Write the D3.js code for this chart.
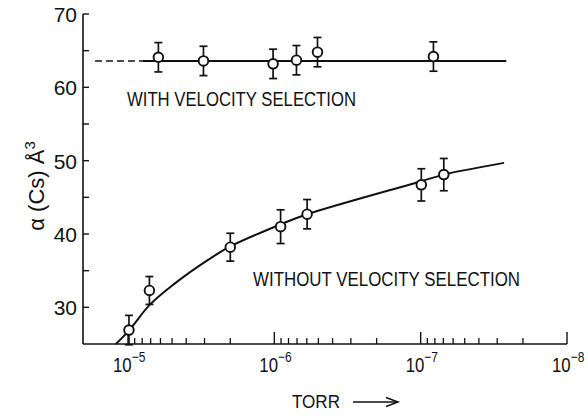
<!DOCTYPE html>
<html><head><meta charset="utf-8">
<script src="https://cdn.jsdelivr.net/npm/d3@7"></script>
<style>
html,body{margin:0;padding:0;background:#fff;}
svg{display:block;}
text{font-family:"Liberation Sans",Arial,sans-serif;fill:#111;}
</style></head>
<body><svg id="c" width="588" height="417"></svg>
<script>
// ---- data ----
const withSelPressure = [6.2e-6, 3.05e-6, 1.02e-6, 7.06e-7, 5.07e-7, 8.18e-8];
const withSelAlpha    = [64.1, 63.6, 63.2, 63.7, 64.8, 64.2];
const withSelErr      = [2.0, 2.0, 2.0, 2.0, 2.0, 2.0];
const withSelLevel    = 63.6;
const withSelDashRange  = [1.68e-5, 7.9e-6];
const withSelSolidRange = [7.9e-6, 2.6e-8];

const withoutSelPressure = [9.85e-6, 7.14e-6, 2.0e-6, 9.06e-7, 5.97e-7, 9.9e-8, 6.95e-8];
const withoutSelAlpha    = [26.9, 32.3, 38.2, 41.0, 42.7, 46.7, 48.1];
const withoutSelErr      = [2.0, 1.9, 1.9, 2.3, 2.0, 2.2, 2.2];

const fitPressure = [1.21e-5, 9.8e-6, 7.06e-6, 4.9e-6, 2.82e-6, 2.0e-6, 9.1e-7, 5.97e-7, 9.9e-8, 6.95e-8, 2.69e-8];
const fitAlpha    = [25.0, 26.9, 30.4, 33.1, 36.5, 38.3, 41.3, 42.7, 47.2, 48.1, 49.7];

const yTicks = [30, 35, 40, 45, 50, 55, 60, 65, 70];
const yLabels = [30, 40, 50, 60, 70];
const xMajor = [-5, -6, -7, -8];
const xMinorMult = [2, 3, 4, 5, 6, 7, 8, 9];

const svg = d3.select("#c");
const x = d3.scaleLog().domain([2.03e-5, 1e-8]).range([83, 567]);
const y = d3.scaleLinear().domain([25, 70]).range([344, 14]);
const ink = "#111";

// axes lines
svg.append("line").attr("x1", x(2.03e-5)).attr("x2", x(1e-8)).attr("y1", y(25)).attr("y2", y(25))
  .attr("stroke", ink).attr("stroke-width", 1.6);
svg.append("line").attr("x1", x(2.03e-5)).attr("x2", x(2.03e-5)).attr("y1", y(25)).attr("y2", y(70))
  .attr("stroke", ink).attr("stroke-width", 1.6);

// y ticks
const x0 = x(2.03e-5);
svg.selectAll(".yt").data(yTicks).join("line")
  .attr("x1", x0).attr("x2", x0 + 6).attr("y1", d => y(d)).attr("y2", d => y(d))
  .attr("stroke", ink).attr("stroke-width", 1.4);
svg.selectAll(".yl").data(yLabels).join("text")
  .attr("x", 77).attr("y", d => y(d) + 8).attr("text-anchor", "end")
  .attr("font-size", 21).text(d => d);

// x ticks
const yb = y(25);
const minorVals = [];
[-5, -6, -7].forEach(e => xMinorMult.forEach(m => minorVals.push(m * Math.pow(10, e - 1))));
svg.selectAll(".xm").data(minorVals).join("line")
  .attr("x1", d => x(d)).attr("x2", d => x(d)).attr("y1", yb).attr("y2", yb - 6)
  .attr("stroke", ink).attr("stroke-width", 1.3);
svg.selectAll(".xM").data(xMajor).join("line")
  .attr("x1", d => x(Math.pow(10, d))).attr("x2", d => x(Math.pow(10, d)))
  .attr("y1", yb).attr("y2", yb - 12)
  .attr("stroke", ink).attr("stroke-width", 1.4);
const xl = svg.selectAll(".xl").data(xMajor).join("text")
  .attr("transform", d => `translate(${x(Math.pow(10, d)) - 15},372) scale(0.8,1)`)
  .attr("font-size", 21);
xl.append("tspan").text("10");
xl.append("tspan").attr("dy", -10).attr("font-size", 15).text(d => "\u2212" + (-d));

// fits
const lineGen = d3.line().x(d => x(d[0])).y(d => y(d[1]));
svg.append("path").attr("d", lineGen(withSelDashRange.map(p => [p, withSelLevel])))
  .attr("fill", "none").attr("stroke", ink).attr("stroke-width", 1.6).attr("stroke-dasharray", "7,4");
svg.append("path").attr("d", lineGen(withSelSolidRange.map(p => [p, withSelLevel])))
  .attr("fill", "none").attr("stroke", ink).attr("stroke-width", 2);
svg.append("path")
  .attr("d", d3.line().x(d => x(d[0])).y(d => y(d[1])).curve(d3.curveCatmullRom)(fitPressure.map((p, i) => [p, fitAlpha[i]])))
  .attr("fill", "none").attr("stroke", ink).attr("stroke-width", 2);

// points with error bars
function drawSeries(P, A, E) {
  const g = svg.append("g");
  const data = P.map((p, i) => ({p, a: A[i], e: E[i]}));
  data.forEach(d => {
    const cx = x(d.p), t = y(d.a + d.e), b = y(d.a - d.e);
    g.append("line").attr("x1", cx).attr("x2", cx).attr("y1", t).attr("y2", b).attr("stroke", ink).attr("stroke-width", 1.7);
    g.append("line").attr("x1", cx - 4).attr("x2", cx + 4).attr("y1", t).attr("y2", t).attr("stroke", ink).attr("stroke-width", 1.7);
    g.append("line").attr("x1", cx - 4).attr("x2", cx + 4).attr("y1", b).attr("y2", b).attr("stroke", ink).attr("stroke-width", 1.7);
    g.append("circle").attr("cx", cx).attr("cy", y(d.a)).attr("r", 4.8)
      .attr("fill", "#fff").attr("stroke", ink).attr("stroke-width", 1.9);
  });
}
drawSeries(withSelPressure, withSelAlpha, withSelErr);
drawSeries(withoutSelPressure, withoutSelAlpha, withoutSelErr);

// annotations
svg.append("text").attr("x", 127).attr("y", 106).attr("font-size", 20)
  .attr("textLength", 229).attr("lengthAdjust", "spacingAndGlyphs").text("WITH VELOCITY SELECTION");
svg.append("text").attr("x", 253).attr("y", 286).attr("font-size", 20)
  .attr("textLength", 267).attr("lengthAdjust", "spacingAndGlyphs").text("WITHOUT VELOCITY SELECTION");

// y title
const yt = svg.append("text").attr("transform", "translate(44,186) rotate(-90)")
  .attr("text-anchor", "middle").attr("font-size", 22);
yt.append("tspan").text("\u03B1 (Cs) \u00C5");
yt.append("tspan").attr("dy", -9).attr("font-size", 15).text("3");

// x title
svg.append("text").attr("x", 292).attr("y", 408).attr("font-size", 18)
  .attr("textLength", 48).attr("lengthAdjust", "spacingAndGlyphs").text("TORR");
svg.append("line").attr("x1", 353).attr("x2", 396).attr("y1", 402).attr("y2", 402).attr("stroke", ink).attr("stroke-width", 1.5);
svg.append("path").attr("d", "M386,397.5 L398,402 L386,406.5").attr("fill", "none").attr("stroke", ink).attr("stroke-width", 1.5);
</script></body></html>
